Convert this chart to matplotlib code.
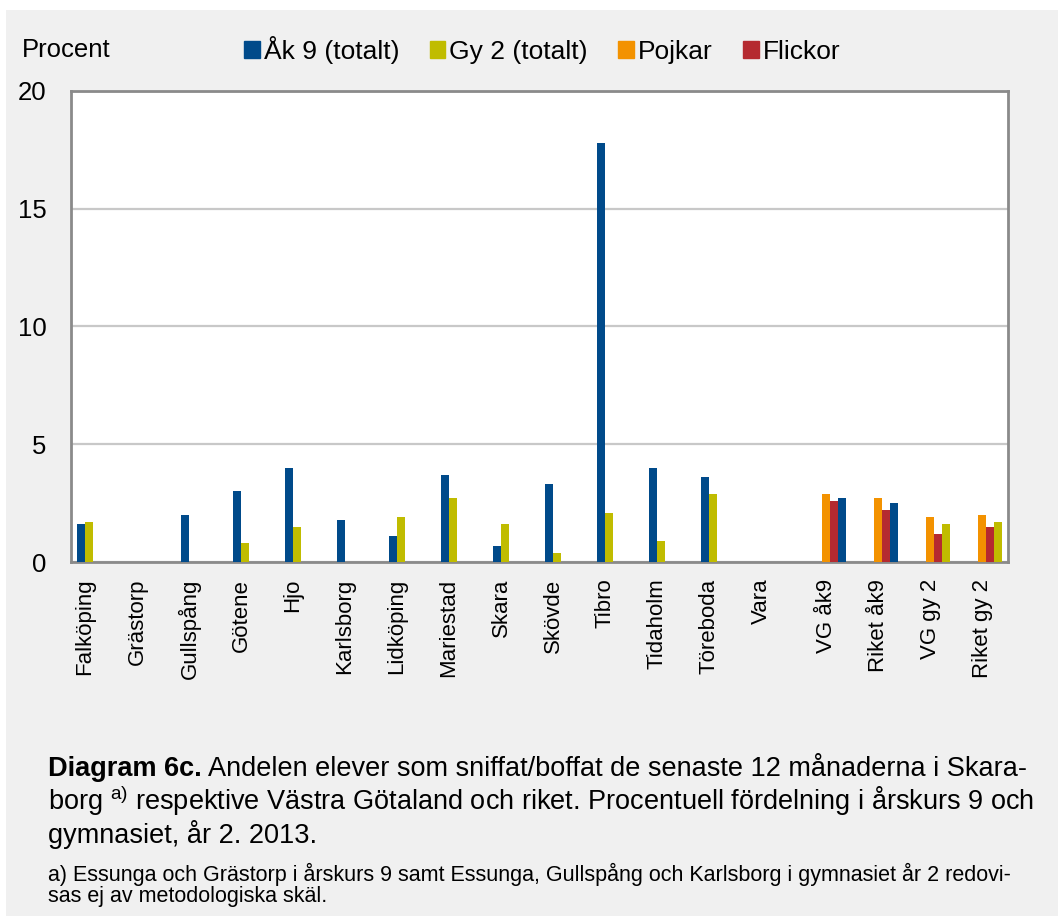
import numpy as np
from matplotlib import pyplot as plt
from matplotlib.patches import Patch, Rectangle

plt.rcParams['font.family'] = ['Liberation Sans', 'DejaVu Sans']

# Data (procent)
kommuner = ['Falköping', 'Grästorp', 'Gullspång', 'Götene', 'Hjo', 'Karlsborg',
            'Lidköping', 'Mariestad', 'Skara', 'Skövde', 'Tibro', 'Tidaholm',
            'Töreboda', 'Vara']
ak9 = [1.6, np.nan, 2.0, 3.0, 4.0, 1.8, 1.1, 3.7, 0.7, 3.3, 17.8, 4.0, 3.6, np.nan]
gy2 = [1.7, np.nan, np.nan, 0.8, 1.5, np.nan, 1.9, 2.7, 1.6, 0.4, 2.1, 0.9, 2.9, np.nan]

jamforelse = ['VG åk9', 'Riket åk9', 'VG gy 2', 'Riket gy 2']
pojkar = [2.9, 2.7, 1.9, 2.0]
flickor = [2.6, 2.2, 1.2, 1.5]
totalt = [2.7, 2.5, 1.6, 1.7]
totalt_serie = ['ak9', 'ak9', 'gy2', 'gy2']

serier = ['Åk 9 (totalt)', 'Gy 2 (totalt)', 'Pojkar', 'Flickor']
farger = {'ak9': '#004a8a', 'gy2': '#c0bc00', 'pojkar': '#f39200', 'flickor': '#b52a30'}

W, H = 1058, 916
fig = plt.figure(figsize=(W / 100, H / 100), dpi=100, facecolor='white')
fig.patches.append(Rectangle((6 / W, 0), 1, 1 - 10 / H, transform=fig.transFigure,
                             facecolor='#f0f0f0', edgecolor='none', zorder=-10))

ax = fig.add_axes([71 / W, 1 - 562 / H, (1008 - 71) / W, (562 - 91) / H])
ax.set_facecolor('white')

w = 0.155
pos_k = np.arange(len(kommuner))
pos_j = np.arange(len(kommuner), len(kommuner) + len(jamforelse)) + 0.25

ax.bar(pos_k - w / 2, ak9, w, color=farger['ak9'], zorder=3)
ax.bar(pos_k + w / 2, gy2, w, color=farger['gy2'], zorder=3)

ax.bar(pos_j, pojkar, w, color=farger['pojkar'], zorder=3)
ax.bar(pos_j + w, flickor, w, color=farger['flickor'], zorder=3)
ax.bar(pos_j + 2 * w, totalt, w, color=[farger[s] for s in totalt_serie], zorder=3)

ax.set_xlim(-0.27, 17.75)
ax.set_ylim(0, 20)
ax.set_yticks([0, 5, 10, 15, 20])
ax.set_xticks(np.concatenate([pos_k, pos_j]))
ax.set_xticklabels(kommuner + jamforelse, rotation=90, fontsize=16)
ax.tick_params(axis='x', length=0, pad=12)
ax.tick_params(axis='y', length=0, pad=17.5, labelsize=18.5)
for t in ax.get_yticklabels():
    t.set_horizontalalignment('right')

ax.grid(axis='y', color='#c8c8c8', linewidth=1.6, zorder=0)
for s in ax.spines.values():
    s.set_color('#8a8a8a')
    s.set_linewidth(2)

# Rubrik och legend
fig.text(22 / W, 1 - 50 / H, 'Procent', fontsize=18.5, va='center', ha='left')
handles = [Patch(color=farger[k]) for k in ['ak9', 'gy2', 'pojkar', 'flickor']]
fig.legend(handles, serier, loc='center left', bbox_to_anchor=(244 / W, 1 - 50 / H),
           ncol=4, frameon=False, fontsize=19, handlelength=0.6, handleheight=0.6,
           handletextpad=0.15, columnspacing=1.15, borderpad=0, borderaxespad=0)

# Figurtext
fs = 19.5
t1 = fig.text(48 / W, 1 - 776 / H, 'Diagram 6c.', fontsize=fs, fontweight='bold', va='baseline')
ax.annotate(' Andelen elever som sniffat/boffat de senaste 12 månaderna i Skara-',
            xy=(1, 0), xycoords=t1, va='bottom', fontsize=fs)
fig.text(48 / W, 1 - 810 / H,
         r'borg $^{\mathregular{a)}}$ respektive Västra Götaland och riket. Procentuell fördelning i årskurs 9 och',
         fontsize=fs, va='baseline')
fig.text(48 / W, 1 - 843 / H, 'gymnasiet, år 2. 2013.', fontsize=fs, va='baseline')

fs2 = 15.5
fig.text(48 / W, 1 - 881 / H,
         'a) Essunga och Grästorp i årskurs 9 samt Essunga, Gullspång och Karlsborg i gymnasiet år 2 redovi-',
         fontsize=fs2, va='baseline')
fig.text(48 / W, 1 - 902 / H, 'sas ej av metodologiska skäl.', fontsize=fs2, va='baseline')

fig.savefig('out.png', dpi=100, facecolor=fig.get_facecolor())
